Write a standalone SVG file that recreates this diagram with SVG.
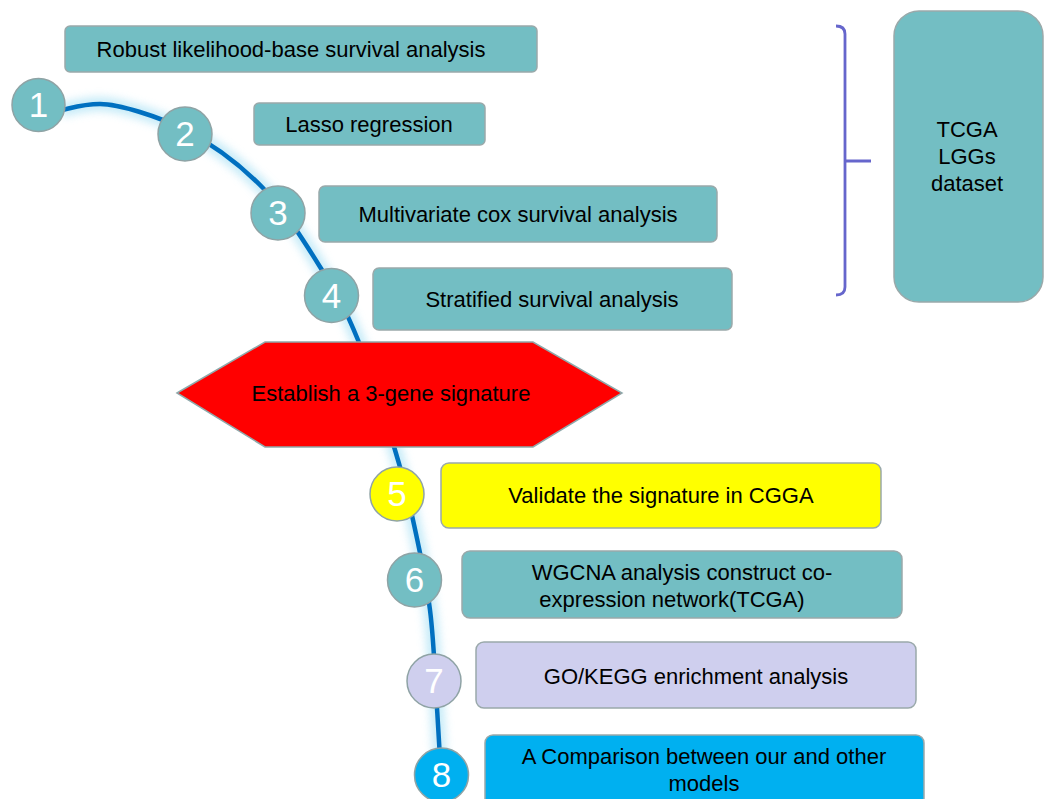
<svg xmlns="http://www.w3.org/2000/svg" width="1048" height="799" viewBox="0 0 1048 799">
<style>
.box{stroke:#9aa9aa;stroke-width:1.5}
.teal{fill:#73bec3}
.t{font-family:"Liberation Sans",Arial,sans-serif;font-size:22px;fill:#000;text-anchor:middle}
.num{font-family:"Liberation Sans",Arial,sans-serif;font-size:35px;fill:#fff;text-anchor:middle}
.circ{stroke:#8fa3a5;stroke-width:1.5}
</style>
<defs>
<filter id="glow" x="-20%" y="-20%" width="140%" height="140%"><feGaussianBlur stdDeviation="4"/></filter>
</defs>
<rect width="1048" height="799" fill="#fff"/>
<g id="connectors">
<path id="curve-glow" d="M62,110 C68.3,109 82,104 100,104 C118,104 157.8,116 185,130 C212.2,144 240.2,164.7 263,188 C285.8,211.3 306.2,244.7 322,270 C337.8,295.3 345.8,310 358,340 C370.2,370 385.8,420 395,450 C404.2,480 407.2,493.3 413,520 C418.8,546.7 426,578.7 430,610 C434,641.3 435.2,680.5 437,708 C438.8,735.5 440.3,763.8 441,775" fill="none" stroke="#b8e6f6" stroke-width="14" opacity="0.8" filter="url(#glow)"/>
<path id="curve" d="M62,110 C68.3,109 82,104 100,104 C118,104 157.8,116 185,130 C212.2,144 240.2,164.7 263,188 C285.8,211.3 306.2,244.7 322,270 C337.8,295.3 345.8,310 358,340 C370.2,370 385.8,420 395,450 C404.2,480 407.2,493.3 413,520 C418.8,546.7 426,578.7 430,610 C434,641.3 435.2,680.5 437,708 C438.8,735.5 440.3,763.8 441,775" fill="none" stroke="#0070c0" stroke-width="4.5"/>
<path id="bracket" d="M836,26 Q845,26 845,34 L845,287 Q845,295 836,295 M845,161 L871,161" fill="none" stroke="#6666cc" stroke-width="2.8"/>
</g>
<g id="box1"><rect class="box teal" x="65" y="26" width="472" height="46" rx="5"/><text class="t" x="291" y="57">Robust likelihood-base survival analysis</text></g>
<g id="box2"><rect class="box teal" x="254" y="103" width="231" height="42" rx="5"/><text class="t" x="369" y="132">Lasso regression</text></g>
<g id="box3"><rect class="box teal" x="319" y="186" width="398" height="56" rx="6"/><text class="t" x="518" y="222">Multivariate cox survival analysis</text></g>
<g id="box4"><rect class="box teal" x="373" y="268" width="359" height="62" rx="6"/><text class="t" x="552" y="307">Stratified survival analysis</text></g>
<g id="hexagon"><polygon points="177,393 265,342 533,342 622,393 533,447 265,447" fill="#ff0000" stroke="#8fa9ab" stroke-width="1.5"/><text class="t" x="391" y="401">Establish a 3-gene signature</text></g>
<g id="box5"><rect class="box" x="441" y="463" width="440" height="65" rx="8" fill="#ffff00"/><text class="t" x="661" y="503">Validate the signature in CGGA</text></g>
<g id="box6"><rect class="box teal" x="462" y="551" width="440" height="67" rx="8"/><text class="t" x="682" y="580">WGCNA analysis construct co-</text><text class="t" x="672" y="607">expression network(TCGA)</text></g>
<g id="box7"><rect class="box" x="476" y="642" width="440" height="66" rx="8" fill="#cfcfee"/><text class="t" x="696" y="684">GO/KEGG enrichment analysis</text></g>
<g id="box8"><rect class="box" x="485" y="735" width="439" height="80" rx="8" fill="#00b0f0"/><text class="t" x="704" y="764">A Comparison between our and other</text><text class="t" x="704" y="791">models</text></g>
<g id="tcga"><rect class="box teal" x="894" y="11" width="149" height="291" rx="25"/><text class="t" x="967" y="137">TCGA</text><text class="t" x="967" y="164">LGGs</text><text class="t" x="967" y="191">dataset</text></g>
<g id="c1"><circle class="circ teal" cx="38.5" cy="105" r="26.5"/><text class="num" x="38.5" y="117">1</text></g>
<g id="c2"><circle class="circ teal" cx="185" cy="134" r="27"/><text class="num" x="185" y="146">2</text></g>
<g id="c3"><circle class="circ teal" cx="278" cy="213" r="27"/><text class="num" x="278" y="225">3</text></g>
<g id="c4"><circle class="circ teal" cx="331.5" cy="295.5" r="27"/><text class="num" x="331.5" y="307.5">4</text></g>
<g id="c5"><circle class="circ" cx="397" cy="494" r="27" fill="#ffff00"/><text class="num" x="397" y="506">5</text></g>
<g id="c6"><circle class="circ teal" cx="414.5" cy="580" r="27"/><text class="num" x="414.5" y="592">6</text></g>
<g id="c7"><circle class="circ" cx="434" cy="681" r="27" fill="#cfcfee"/><text class="num" x="434" y="693">7</text></g>
<g id="c8"><circle class="circ" cx="441.5" cy="775" r="27" fill="#00b0f0"/><text class="num" x="441.5" y="787">8</text></g>
</svg>
